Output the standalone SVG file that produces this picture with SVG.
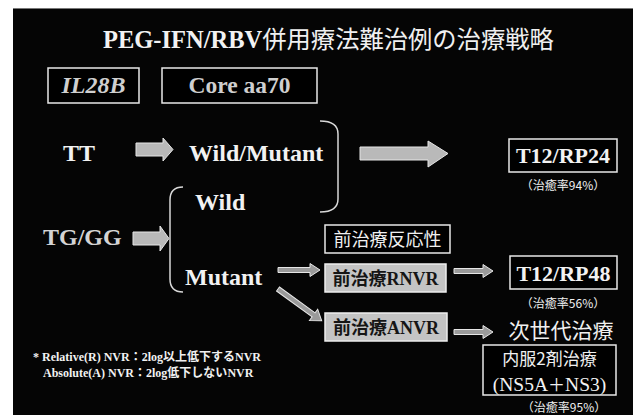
<svg xmlns="http://www.w3.org/2000/svg" width="633" height="415" viewBox="0 0 633 415">
<defs>
<style>
.lat{font-family:"Liberation Serif","Times New Roman","DejaVu Serif",serif;font-weight:bold;fill:#f2f2f2}
.cjk{font-family:"Noto Sans CJK JP","Noto Sans CJK SC",sans-serif;fill:#f0f0f0}
.box{fill:#000;stroke:#e8e8e8;stroke-width:1.5}
.gbox{fill:#c4c4c4;stroke:#eeeeee;stroke-width:1.5}
.big{fill:#b9b9b9;stroke:#e6e6e6;stroke-width:1}
.thin{fill:#9a9a9a;stroke:#e6e6e6;stroke-width:1}
.brace{fill:none;stroke:#d8d8d8;stroke-width:1.5}
</style>
</defs>
<rect x="0" y="0" width="633" height="415" fill="#ffffff"/>
<rect x="13" y="8" width="620" height="407" fill="#050505"/>
<line x1="13" y1="8.5" x2="633" y2="8.5" stroke="#777" stroke-width="1"/>

<g id="title">
<text x="103" y="48" font-size="24.5" class="lat">PEG-IFN/RBV<tspan class="cjk" font-weight="normal" font-size="24.3">併用療法難治例の治療戦略</tspan></text>
</g>

<g id="il28b">
<rect x="48" y="68" width="91" height="35" class="box"/>
<text x="93.5" y="93" font-size="24" text-anchor="middle" class="lat" font-style="italic" style="fill:#cfcfcf">IL28B</text>
</g>
<g id="core">
<rect x="162" y="68" width="155" height="35" class="box"/>
<text x="239.5" y="93" font-size="23.5" text-anchor="middle" class="lat" style="fill:#cfcfcf">Core aa70</text>
</g>

<g id="tt"><text x="63" y="161" font-size="24" class="lat">TT</text></g>
<g id="wildmutant"><text x="189" y="161" font-size="24" class="lat">Wild/Mutant</text></g>
<g id="tggg"><text x="43" y="245" font-size="24" class="lat" style="fill:#d4d4d4">TG/GG</text></g>
<g id="wild"><text x="195" y="210" font-size="24" class="lat">Wild</text></g>
<g id="mutant"><text x="185" y="285" font-size="24" class="lat">Mutant</text></g>

<g id="t12rp24">
<rect x="509" y="139" width="108" height="33" class="box"/>
<text x="563" y="163" font-size="22" text-anchor="middle" class="lat">T12/RP24</text>
<text x="563" y="190" font-size="12" text-anchor="middle" class="cjk">（治癒率94%）</text>
</g>

<g id="prev-response">
<rect x="325" y="225" width="125" height="28" class="box"/>
<text x="387.5" y="246" font-size="18" text-anchor="middle" class="cjk">前治療反応性</text>
</g>
<g id="rnvr">
<rect x="325" y="264" width="121" height="28" class="gbox"/>
<text x="385.5" y="285" font-size="18" text-anchor="middle" class="lat" style="fill:#151515"><tspan class="cjk" style="fill:#151515" font-weight="bold">前治療</tspan>RNVR</text>
</g>
<g id="anvr">
<rect x="325" y="313" width="122" height="28" class="gbox"/>
<text x="386" y="334" font-size="18" text-anchor="middle" class="lat" style="fill:#151515"><tspan class="cjk" style="fill:#151515" font-weight="bold">前治療</tspan>ANVR</text>
</g>

<g id="t12rp48">
<rect x="510" y="256" width="107" height="33" class="box"/>
<text x="563.5" y="281" font-size="22" text-anchor="middle" class="lat">T12/RP48</text>
<text x="563" y="308" font-size="12" text-anchor="middle" class="cjk">（治癒率56%）</text>
</g>

<g id="next-gen">
<text x="561" y="338" font-size="21" text-anchor="middle" class="cjk">次世代治療</text>
</g>
<g id="oral">
<rect x="483" y="345" width="133" height="50" class="box"/>
<text x="549.5" y="365" font-size="17" text-anchor="middle" class="cjk">内服2剤治療</text>
<text x="549.5" y="391" font-size="19.5" text-anchor="middle" class="lat" style="font-weight:normal">(NS5A<tspan class="cjk" font-size="17">＋</tspan>NS3)</text>
<text x="564" y="412" font-size="12" text-anchor="middle" class="cjk">（治癒率95%）</text>
</g>

<g id="footnote">
<text x="33" y="361" font-size="12" class="lat">* Relative(R) NVR<tspan class="cjk" font-weight="bold">：</tspan>2log<tspan class="cjk" font-weight="bold">以上低下する</tspan>NVR</text>
<text x="43" y="377" font-size="12" class="lat">Absolute(A) NVR<tspan class="cjk" font-weight="bold">：</tspan>2log<tspan class="cjk" font-weight="bold">低下しない</tspan>NVR</text>
</g>

<g id="connectors">
<path class="big" d="M136,143 H163 V138 L173,149.5 L163,161 V156 H136 Z"/>
<path class="big" d="M133,232 H160 V226 L169,238.5 L160,251 V245 H133 Z"/>
<path class="big" d="M360,147 H428 V141 L448,153.5 L428,167 V160 H360 Z"/>
<path class="brace" d="M320,121 Q338,121 338,134 V199 Q338,212 320,212"/>
<path class="brace" d="M183,187 Q170,187 170,200 V279 Q170,292 183,292"/>
<path class="thin" d="M278,267.5 H310 V263.5 L320,270 L310,276.5 V272.5 H278 Z"/>
<path class="thin" d="M454,268.5 H483 V264.5 L493,271 L483,277.5 V273.5 H454 Z"/>
<path class="thin" d="M454,329.5 H483 V325.5 L493,332 L483,338.5 V334.5 H454 Z"/>
<path class="thin" transform="translate(278,289) rotate(36)" d="M0,-2.5 H44 V-7 L54,0 L44,7 V2.5 H0 Z"/>
</g>
</svg>
